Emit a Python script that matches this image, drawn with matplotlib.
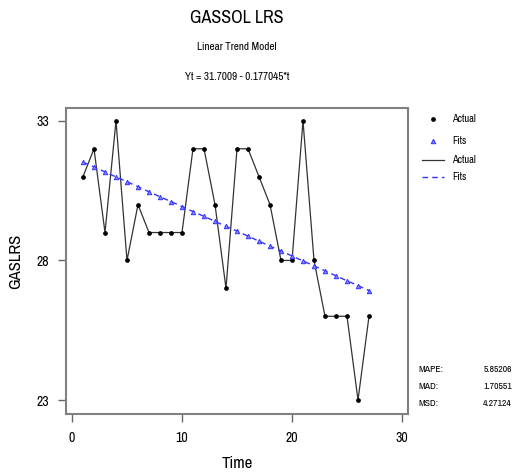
import matplotlib
matplotlib.use("Agg")
import matplotlib.pyplot as plt
from matplotlib.lines import Line2D

plt.rcParams["font.family"] = ["Archivo Narrow", "Roboto Condensed", "DejaVu Sans"]

# data
time = list(range(1, 28))
actual = [31, 32, 29, 33, 28, 30, 29, 29, 29, 29, 32, 32, 30, 27,
          32, 32, 31, 30, 28, 28, 33, 28, 26, 26, 26, 23, 26]
fits = [31.52, 31.35, 31.17, 30.99, 30.82, 30.64, 30.46, 30.28, 30.11,
        29.93, 29.75, 29.58, 29.40, 29.22, 29.05, 28.87, 28.69, 28.51,
        28.34, 28.16, 27.98, 27.81, 27.63, 27.45, 27.27, 27.10, 26.92]
x_ticks = [0, 10, 20, 30]
y_ticks = [23, 28, 33]
stats_names = ["MAPE:", "MAD:", "MSD:"]
stats_values = ["5.85206", "1.70551", "4.27124"]

W, H = 515, 473
fig = plt.figure(figsize=(W / 100, H / 100), dpi=100)
ax = fig.add_axes([66 / W, 1 - 414 / H, (408 - 66) / W, (414 - 108) / H])

ax.plot(time, actual, color="#333333", lw=0.9, zorder=2)
ax.plot(time, actual, ls="none", marker="o", ms=2.4, color="black", zorder=3)
ax.plot(time, fits, color="#3333ff", lw=1.0, ls=(0, (4, 3)), zorder=2)
ax.plot(time, fits, ls="none", marker="^", ms=3.2, mfc="#8888ff", mec="#3333ff", mew=0.7, zorder=3)

ax.set_xlim(-0.545, 30.545)
ax.set_ylim(22.5, 33.46)
ax.set_xticks(x_ticks)
ax.set_yticks(y_ticks)
ax.tick_params(direction="out", length=6, width=1, colors="#666666", labelcolor="black",
               labelsize=10, pad=6)
for s in ax.spines.values():
    s.set_color("#808080")
    s.set_linewidth(1.5)

ax.set_xlabel("Time", fontsize=12, labelpad=8)
ax.set_ylabel("GASLRS", fontsize=12, labelpad=10)

cx = (66 + 408) / 2 / W
fig.text(cx, 1 - 18 / H, "GASSOL LRS", ha="center", va="center", fontsize=13)
fig.text(cx, 1 - 47 / H, "Linear Trend Model", ha="center", va="center", fontsize=8)
fig.text(cx, 1 - 77 / H, "Yt = 31.7009 - 0.177045*t", ha="center", va="center", fontsize=8)

# legend drawn in figure space
lg = fig.add_axes([415 / W, 1 - 190 / H, 100 / W, 85 / H])
lg.set_xlim(0, 100)
lg.set_ylim(190, 105)
lg.axis("off")
lg.add_line(Line2D([18], [119], ls="none", marker="o", ms=2.4, color="black"))
lg.add_line(Line2D([18], [141], ls="none", marker="^", ms=3.2, mfc="#8888ff", mec="#3333ff", mew=0.7))
lg.add_line(Line2D([7, 29], [160, 160], color="#333333", lw=0.9))
lg.add_line(Line2D([7, 29], [177, 177], color="#3333ff", lw=1.0, ls=(0, (4, 3))))
for yy, lab in zip([119, 141, 160, 177], ["Actual", "Fits", "Actual", "Fits"]):
    lg.text(37, yy, lab, fontsize=7.5, va="center", ha="left")

for i, (n, v) in enumerate(zip(stats_names, stats_values)):
    yy = 1 - (369 + 17 * i) / H
    fig.text(418 / W, yy, n, fontsize=7, va="center", ha="left")
    fig.text(512 / W, yy, v, fontsize=7, va="center", ha="right")

fig.savefig("out.png", dpi=100)
